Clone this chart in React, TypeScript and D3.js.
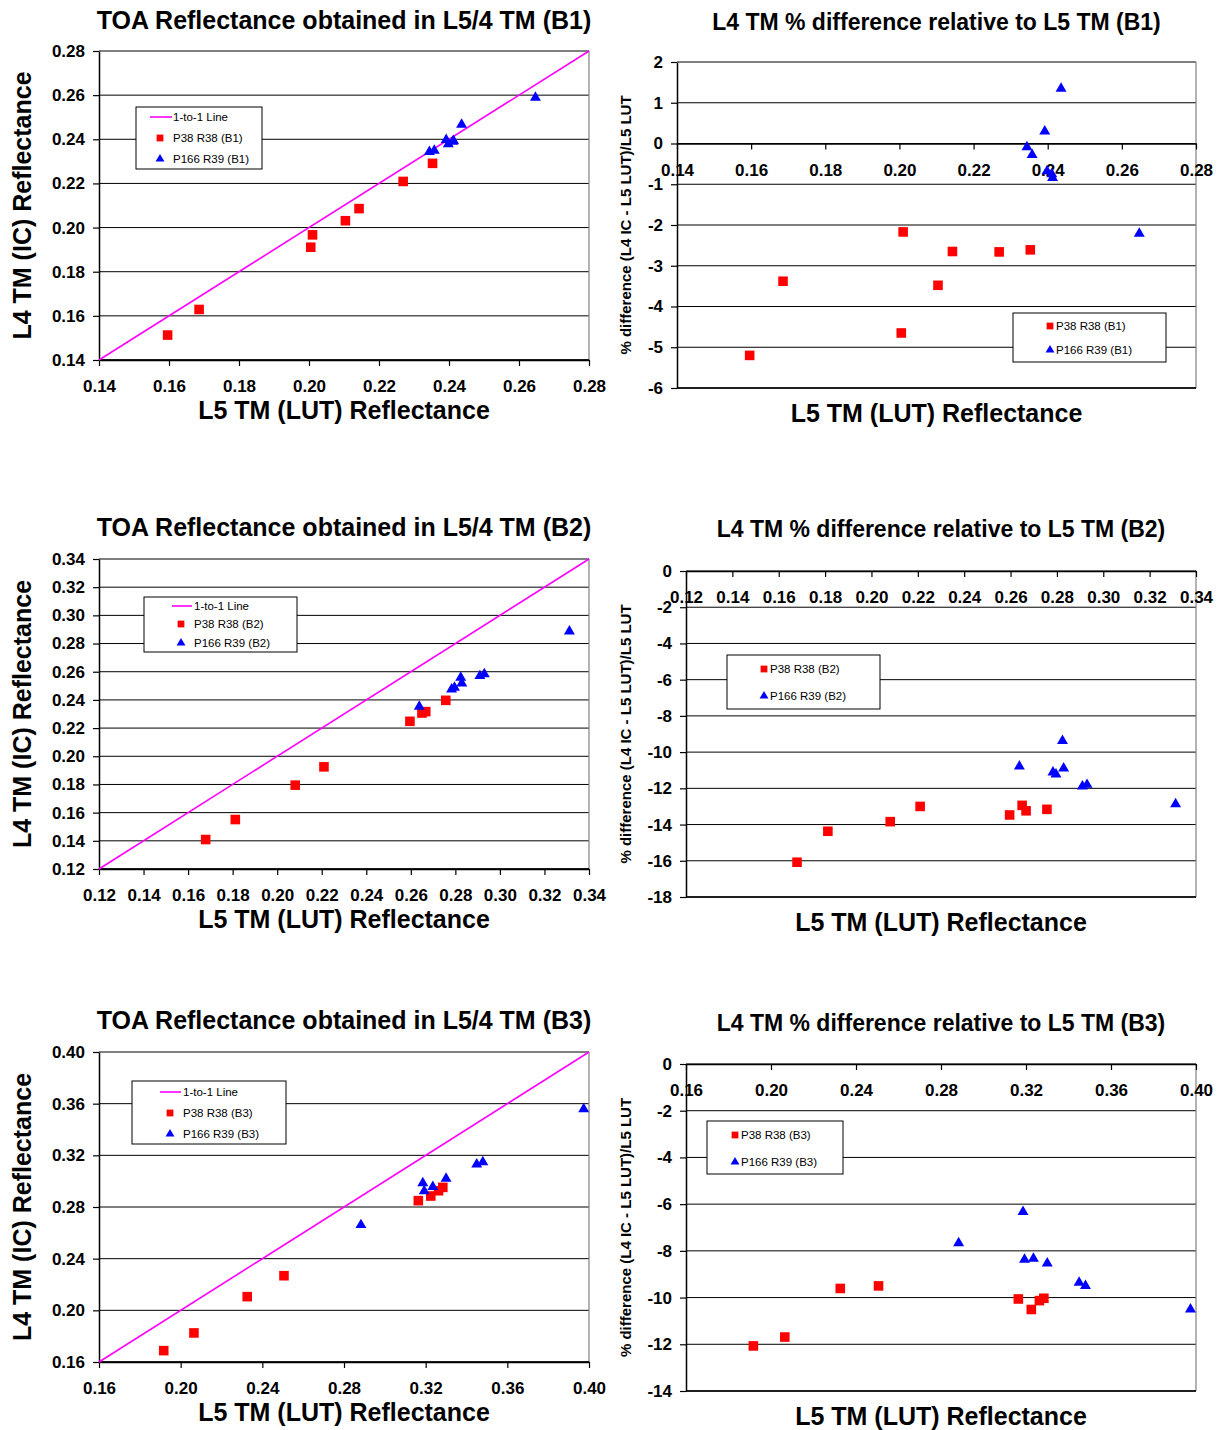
import React, { useRef, useEffect } from 'react';
import * as d3 from 'd3';

// constants
const width = 1225;
const height = 1430;
const fontFamily = "'Liberation Sans', Arial, sans-serif";
const red = '#ff0000';
const blue = '#0000ff';
const magenta = '#ff00ff';

// B1 values (L5 LUT reflectance, L4 IC reflectance, % difference)
const b1RedX = [0.1596, 0.1686, 0.2005, 0.2010, 0.2104, 0.2143, 0.2269, 0.2353];
const b1RedY = [0.1513, 0.1629, 0.1911, 0.1967, 0.2031, 0.2086, 0.2209, 0.2291];
const b1RedPct = [-5.20, -3.38, -4.65, -2.17, -3.48, -2.65, -2.66, -2.61];
const b1BlueX = [0.2344, 0.2358, 0.2392, 0.2398, 0.2411, 0.2413, 0.2436, 0.2647];
const b1BlueY = [0.2343, 0.2349, 0.2398, 0.2378, 0.2390, 0.2393, 0.2467, 0.2589];
const b1BluePct = [-0.09, -0.28, 0.30, -0.68, -0.75, -0.84, 1.35, -2.21];

// B2 values
const b2RedX = [0.1679, 0.1812, 0.2081, 0.2210, 0.2596, 0.2650, 0.2667, 0.2757];
const b2RedY = [0.1409, 0.1551, 0.1795, 0.1925, 0.2248, 0.2307, 0.2317, 0.2397];
const b2RedPct = [-16.08, -14.37, -13.84, -13.00, -13.47, -12.94, -13.24, -13.16];
const b2BlueX = [0.2638, 0.2783, 0.2796, 0.2824, 0.2829, 0.2910, 0.2930, 0.3312];
const b2BlueY = [0.2352, 0.2475, 0.2487, 0.2558, 0.2518, 0.2570, 0.2584, 0.2886];
const b2BluePct = [-10.79, -11.12, -11.23, -9.38, -10.90, -11.89, -11.80, -12.87];

// B3 values
const b3RedX = [0.1917, 0.2065, 0.2326, 0.2506, 0.3164, 0.3225, 0.3263, 0.3284];
const b3RedY = [0.1688, 0.1825, 0.2106, 0.2268, 0.2849, 0.2885, 0.2926, 0.2952];
const b3RedPct = [-12.07, -11.69, -9.61, -9.50, -10.06, -10.51, -10.13, -10.03];
const b3BlueX = [0.2883, 0.3186, 0.3193, 0.3235, 0.3300, 0.3450, 0.3480, 0.3974];
const b3BlueY = [0.2661, 0.2986, 0.2924, 0.2957, 0.3020, 0.3130, 0.3148, 0.3559];
const b3BluePct = [-7.67, -6.33, -8.37, -8.33, -8.53, -9.36, -9.50, -10.50];

// tick labels
const b1Ticks = [0.14, 0.16, 0.18, 0.20, 0.22, 0.24, 0.26, 0.28];
const b2Ticks = [0.12, 0.14, 0.16, 0.18, 0.20, 0.22, 0.24, 0.26, 0.28, 0.30, 0.32, 0.34];
const b3Ticks = [0.16, 0.20, 0.24, 0.28, 0.32, 0.36, 0.40];
const b1PctTicks = [2, 1, 0, -1, -2, -3, -4, -5, -6];
const b2PctTicks = [0, -2, -4, -6, -8, -10, -12, -14, -16, -18];
const b3PctTicks = [0, -2, -4, -6, -8, -10, -12, -14];

const zip = (xs, ys) => xs.map((x, i) => [x, ys[i]]);

const squarePath = d3.symbol(d3.symbolSquare, 92)();
const trianglePath = d3.symbol(d3.symbolTriangle, 52)();
const squareSmall = d3.symbol(d3.symbolSquare, 46)();
const triangleSmall = d3.symbol(d3.symbolTriangle, 34)();

const Panel = ({ kind, box, xTicks, yTicks, redPts, bluePts, band, titleY, legend }) => {
  const xAxisRef = useRef(null);
  const yAxisRef = useRef(null);

  const xScale = d3.scaleLinear().domain(d3.extent(xTicks)).range([box.l, box.r]);
  const yScale = d3.scaleLinear().domain(d3.extent(yTicks)).range([box.b, box.t]);
  const axisY = kind === 'scatter' ? box.b : yScale(0);

  useEffect(() => {
    const styleAxis = g => {
      g.selectAll('text')
        .attr('font-family', fontFamily)
        .attr('font-size', 17)
        .attr('font-weight', 'bold')
        .attr('fill', '#000');
      g.selectAll('.tick line').attr('stroke', '#000').attr('stroke-width', 1.2);
      g.select('.domain').attr('stroke', '#000').attr('stroke-width', 1.5);
    };
    d3.select(xAxisRef.current)
      .call(d3.axisBottom(xScale).tickValues(xTicks).tickSize(6).tickSizeOuter(0)
        .tickPadding(14).tickFormat(d3.format('.2f')))
      .call(styleAxis);
    d3.select(yAxisRef.current)
      .call(d3.axisLeft(yScale).tickValues(yTicks).tickSize(6).tickSizeOuter(0)
        .tickPadding(8).tickFormat(d => kind === 'scatter' ? d3.format('.2f')(d) : String(d)))
      .call(styleAxis);
  }, []);

  const cx = (box.l + box.r) / 2;
  const cy = (box.t + box.b) / 2;
  const title = kind === 'scatter'
    ? `TOA Reflectance obtained in L5/4 TM (${band})`
    : `L4 TM % difference relative to L5 TM (${band})`;

  return (
    <g>
      {/* gridlines */}
      {yTicks.map(t => (
        <line key={t} x1={box.l} x2={box.r} y1={yScale(t)} y2={yScale(t)} stroke="#000" strokeWidth={1} />
      ))}
      <line x1={box.r} x2={box.r} y1={box.t} y2={box.b} stroke="#808080" strokeWidth={1.2} />
      <line x1={box.l} x2={box.r} y1={box.b} y2={box.b} stroke="#000" strokeWidth={1.5} />

      <g ref={yAxisRef} transform={`translate(${box.l},0)`} />
      <g ref={xAxisRef} transform={`translate(0,${axisY})`} />

      {kind === 'scatter' && (
        <line x1={xScale(xTicks[0])} y1={yScale(xTicks[0])}
          x2={xScale(xTicks[xTicks.length - 1])} y2={yScale(xTicks[xTicks.length - 1])}
          stroke={magenta} strokeWidth={1.6} />
      )}

      {/* legend */}
      <rect x={legend.x} y={legend.y} width={legend.w} height={legend.h} fill="#fff" stroke="#000" strokeWidth={1} />
      {kind === 'scatter' ? (
        <g fontFamily={fontFamily} fontSize={11.5} fill="#000">
          <line x1={legend.lineX[0]} x2={legend.lineX[1]} y1={legend.rows[0]} y2={legend.rows[0]} stroke={magenta} strokeWidth={1.6} />
          <text x={legend.textX} y={legend.rows[0]} dominantBaseline="central">1-to-1 Line</text>
          <path d={squareSmall} fill={red} transform={`translate(${legend.markerX},${legend.rows[1]})`} />
          <text x={legend.textX} y={legend.rows[1]} dominantBaseline="central">{`P38 R38 (${band})`}</text>
          <path d={triangleSmall} fill={blue} transform={`translate(${legend.markerX},${legend.rows[2]})`} />
          <text x={legend.textX} y={legend.rows[2]} dominantBaseline="central">{`P166 R39 (${band})`}</text>
        </g>
      ) : (
        <g fontFamily={fontFamily} fontSize={11.5} fill="#000">
          <path d={squareSmall} fill={red} transform={`translate(${legend.markerX},${legend.rows[0]})`} />
          <text x={legend.textX} y={legend.rows[0]} dominantBaseline="central">{`P38 R38 (${band})`}</text>
          <path d={triangleSmall} fill={blue} transform={`translate(${legend.markerX},${legend.rows[1]})`} />
          <text x={legend.textX} y={legend.rows[1]} dominantBaseline="central">{`P166 R39 (${band})`}</text>
        </g>
      )}

      {/* points */}
      {redPts.map((d, i) => (
        <path key={'r' + i} d={squarePath} fill={red} transform={`translate(${xScale(d[0])},${yScale(d[1])})`} />
      ))}
      {bluePts.map((d, i) => (
        <path key={'b' + i} d={trianglePath} fill={blue} transform={`translate(${xScale(d[0])},${yScale(d[1])})`} />
      ))}

      {/* titles */}
      <text x={cx} y={titleY} textAnchor="middle" dominantBaseline="central" fontFamily={fontFamily}
        fontWeight="bold" fontSize={kind === 'scatter' ? 25 : 23}>{title}</text>
      <text x={cx} y={box.b + (kind === 'scatter' ? 50 : 25)} textAnchor="middle" dominantBaseline="central"
        fontFamily={fontFamily} fontWeight="bold" fontSize={25}>L5 TM (LUT) Reflectance</text>
      {kind === 'scatter' ? (
        <text transform={`translate(22,${cy}) rotate(-90)`} textAnchor="middle" dominantBaseline="central"
          fontFamily={fontFamily} fontWeight="bold" fontSize={25}>L4 TM (IC) Reflectance</text>
      ) : (
        <text transform={`translate(625,${cy}) rotate(-90)`} textAnchor="middle" dominantBaseline="central"
          fontFamily={fontFamily} fontWeight="bold" fontSize={15}>% difference (L4 IC - L5 LUT)/L5 LUT</text>
      )}
    </g>
  );
};

const App = () => {
  return (
    <svg width={width} height={height} style={{ position: 'absolute', left: 0, top: 0, background: '#fff' }}>
      <rect width={width} height={height} fill="#fff" />
      <Panel kind="scatter" band="B1" box={{ l: 99, r: 589, t: 51, b: 360 }} titleY={20}
        xTicks={b1Ticks} yTicks={b1Ticks}
        redPts={zip(b1RedX, b1RedY)} bluePts={zip(b1BlueX, b1BlueY)}
        legend={{ x: 136, y: 107, w: 126, h: 62, lineX: [150, 172], markerX: 160, textX: 173, rows: [117, 138, 159] }} />
      <Panel kind="diff" band="B1" box={{ l: 677, r: 1196, t: 62, b: 388 }} titleY={22}
        xTicks={b1Ticks} yTicks={b1PctTicks}
        redPts={zip(b1RedX, b1RedPct)} bluePts={zip(b1BlueX, b1BluePct)}
        legend={{ x: 1013, y: 313, w: 153, h: 49, markerX: 1050, textX: 1056, rows: [326, 350] }} />

      <Panel kind="scatter" band="B2" box={{ l: 99, r: 589, t: 559, b: 869 }} titleY={527}
        xTicks={b2Ticks} yTicks={b2Ticks}
        redPts={zip(b2RedX, b2RedY)} bluePts={zip(b2BlueX, b2BlueY)}
        legend={{ x: 144, y: 597, w: 153, h: 55, lineX: [172, 192], markerX: 181, textX: 194, rows: [606, 624, 643] }} />
      <Panel kind="diff" band="B2" box={{ l: 686, r: 1196, t: 571, b: 897 }} titleY={529}
        xTicks={b2Ticks} yTicks={b2PctTicks}
        redPts={zip(b2RedX, b2RedPct)} bluePts={zip(b2BlueX, b2BluePct)}
        legend={{ x: 727, y: 655, w: 153, h: 54, markerX: 764, textX: 770, rows: [669, 696] }} />

      <Panel kind="scatter" band="B3" box={{ l: 99, r: 589, t: 1052, b: 1362 }} titleY={1020}
        xTicks={b3Ticks} yTicks={b3Ticks}
        redPts={zip(b3RedX, b3RedY)} bluePts={zip(b3BlueX, b3BlueY)}
        legend={{ x: 132, y: 1081, w: 154, h: 63, lineX: [160, 181], markerX: 170, textX: 183, rows: [1092, 1113, 1134] }} />
      <Panel kind="diff" band="B3" box={{ l: 686, r: 1196, t: 1064, b: 1391 }} titleY={1023}
        xTicks={b3Ticks} yTicks={b3PctTicks}
        redPts={zip(b3RedX, b3RedPct)} bluePts={zip(b3BlueX, b3BluePct)}
        legend={{ x: 707, y: 1121, w: 136, h: 53, markerX: 735, textX: 741, rows: [1135, 1162] }} />
    </svg>
  );
};

export default App;
